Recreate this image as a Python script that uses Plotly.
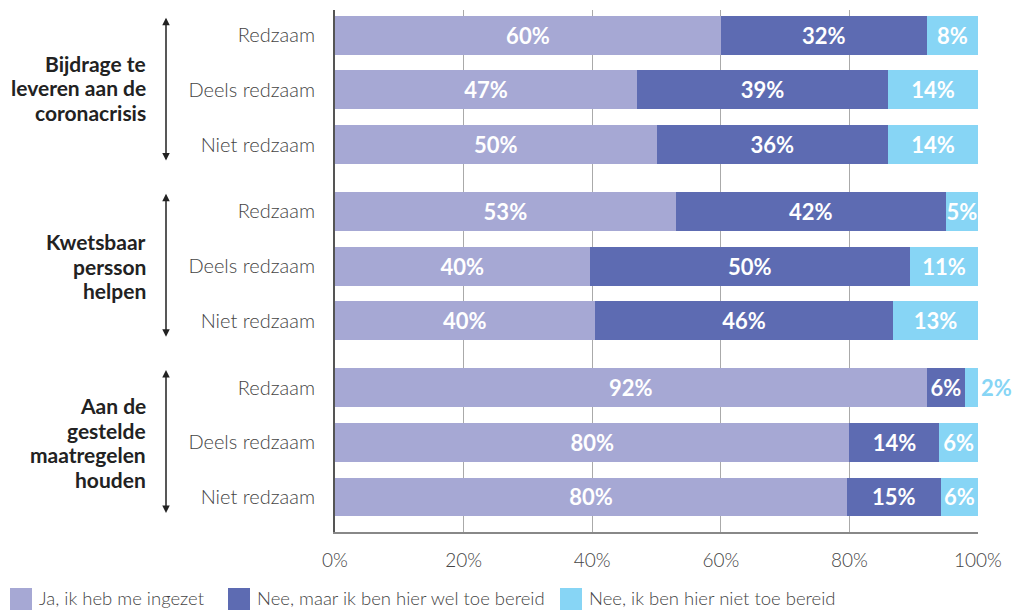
import plotly.graph_objects as go

groups = [["Bijdrage te", "leveren aan de", "coronacrisis"],
          ["Kwetsbaar", "persson", "helpen"],
          ["Aan de", "gestelde", "maatregelen", "houden"]]
levels = ["Redzaam", "Deels redzaam", "Niet redzaam"]
series = ["Ja, ik heb me ingezet", "Nee, maar ik ben hier wel toe bereid",
          "Nee, ik ben hier niet toe bereid"]
ja = [60, 47, 50, 53, 39.6, 40.4, 92, 80, 79.6]
nee_bereid = [32, 39, 36, 42, 49.8, 46.4, 6, 14, 14.6]
nee_niet = [8, 14, 14, 5, 10.6, 13.2, 2, 6, 5.8]
colors = ["#A6A8D4", "#5D6BB2", "#87D5F5"]

FONT = "Lato, 'Noto Sans', sans-serif"
gap = 0.22
ypos = []
ytext = []
for g in range(len(groups)):
    for i, lv in enumerate(levels):
        ypos.append(g * (3 + gap) + i)
        ytext.append(lv)

fig = go.Figure()
for k, (name, vals) in enumerate(zip(series, [ja, nee_bereid, nee_niet])):
    pos = ["inside"] * len(vals)
    if k == 2:
        pos[6] = "outside"
    fig.add_trace(go.Bar(
        y=ypos, x=vals, orientation="h", name=name,
        marker=dict(color=colors[k], line=dict(width=0)),
        width=0.71,
        text=[f"{round(v)}%" for v in vals],
        textposition=pos,
        textangle=0,
        constraintext="none",
        insidetextanchor="middle",
        insidetextfont=dict(color="white", size=22, family=FONT, weight="bold"),
        outsidetextfont=dict(color=colors[2], size=22, family=FONT, weight="bold"),
        cliponaxis=False,
        hoverinfo="skip",
        showlegend=False,
    ))

# plot area in pixels: x 335..978, y 10..532
def px_x(p):
    return (p - 335) / 643.0

def px_y(p):
    return (532 - p) / 522.0

annotations = []
px_per_unit = 522 / 9.54
for g, lines in enumerate(groups):
    top = ypos[g * 3]
    bot = ypos[g * 3 + 2]
    mid = (top + bot) / 2
    length = (bot - top + 0.64) * px_per_unit
    annotations.append(dict(
        xref="paper", yref="y", x=px_x(166), y=top - 0.32, axref="pixel", ayref="pixel",
        ax=0, ay=length, text="", showarrow=True, standoff=0, startstandoff=0,
        arrowhead=2, startarrowhead=2, arrowside="end+start",
        arrowsize=1, arrowwidth=1.5, arrowcolor="#222",
    ))
    n = len(lines)
    for j, line in enumerate(lines):
        annotations.append(dict(
            xref="paper", yref="y", x=px_x(148), y=mid, xanchor="right", yanchor="middle",
            yshift=-(j - (n - 1) / 2) * 24.5 + (2 if g == 0 else 0),
            text=f"<b>{line}</b>", showarrow=False, align="right",
            font=dict(family=FONT, size=21, color="#222"),
        ))

# custom legend with large square swatches
shapes = []
sw_x = [10, 228, 560]
for k, name in enumerate(series):
    shapes.append(dict(type="rect", xref="paper", yref="paper",
                       x0=px_x(sw_x[k]), x1=px_x(sw_x[k] + 22),
                       y0=px_y(610), y1=px_y(588),
                       fillcolor=colors[k], line=dict(width=0)))
    annotations.append(dict(
        xref="paper", yref="paper", x=px_x(sw_x[k] + 27), y=px_y(598),
        xanchor="left", yanchor="middle", text=name, showarrow=False,
        font=dict(family=FONT, size=18.5, color="#444", weight=300),
    ))

fig.update_layout(
    width=1019, height=610,
    margin=dict(l=335, r=41, t=10, b=78),
    barmode="stack",
    plot_bgcolor="white", paper_bgcolor="white",
    font=dict(family=FONT, size=18, color="#444"),
    showlegend=False,
    annotations=annotations,
    shapes=shapes,
    xaxis=dict(range=[0, 100], tickvals=[0, 20, 40, 60, 80, 100],
               ticktext=["0%", "20%", "40%", "60%", "80%", "100%"],
               showgrid=True, gridcolor="#aaa", gridwidth=1,
               showline=True, linecolor="#888", linewidth=1.5,
               zeroline=False, ticks="", ticklabelstandoff=10,
               tickfont=dict(size=19, color="#444", family=FONT, weight=300)),
    yaxis=dict(range=[9.08, -0.46], tickvals=ypos, ticktext=ytext,
               showgrid=False, zeroline=False, showline=True,
               linecolor="#555", linewidth=2, ticks="", ticklabelstandoff=14,
               tickfont=dict(size=20, color="#444", family=FONT, weight=300)),
)

fig.write_html("out.html", config={"displayModeBar": False},
               post_script="document.body.style.margin='0';")
